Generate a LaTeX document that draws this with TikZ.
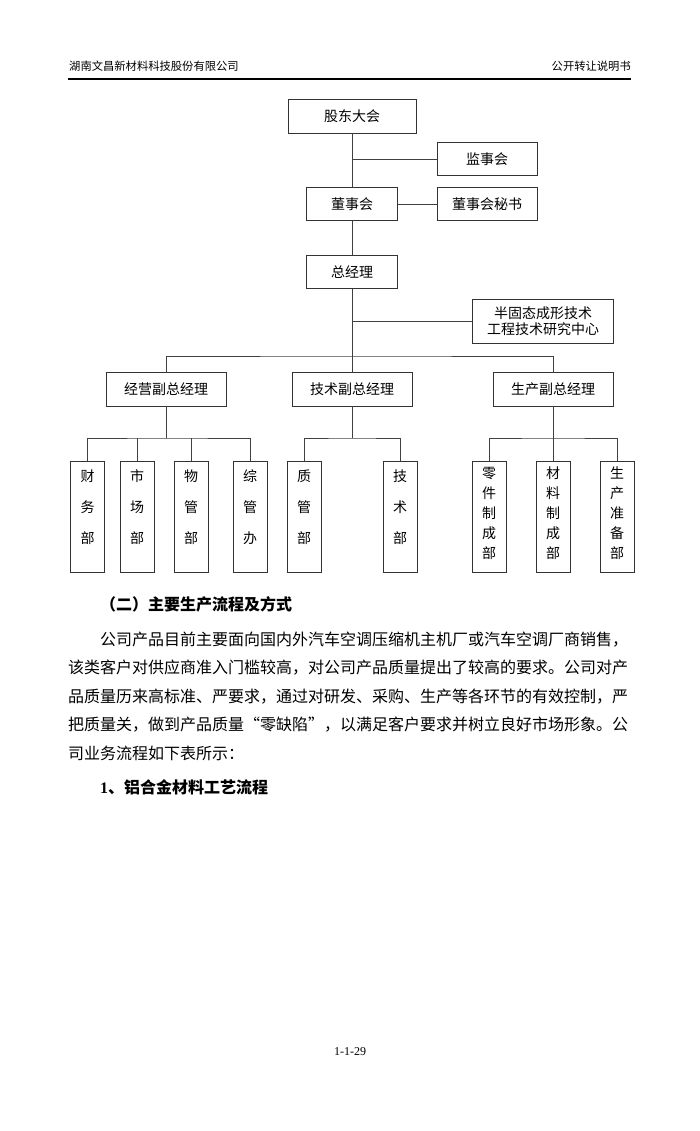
\documentclass[tikz,border=0pt]{standalone}
\usepackage{fontspec}
\setmainfont{Noto Sans CJK SC}
\newfontfamily\tnr{Liberation Serif}
\begin{document}
\begin{tikzpicture}[x=1pt,y=-1pt,
  line/.style={draw=black!75,line width=0.9pt},
  bx/.style={draw=black!80,line width=0.9pt,fill=white,inner sep=0pt,font=\fontsize{14}{16}\selectfont,align=center},
  tall/.style={bx,minimum width=34pt,minimum height=111pt},
  lbl3/.style={inner sep=0pt,align=center,font=\fontsize{14}{31}\selectfont},
  lbl5/.style={inner sep=0pt,align=center,font=\fontsize{14}{20}\selectfont},
  body/.style={inner sep=0pt,anchor=west,font=\fontsize{16}{18}\selectfont},
  head/.style={inner sep=0pt,anchor=west,font=\fontsize{16}{18}\selectfont\bfseries}]
\useasboundingbox[fill=white] (0,0) rectangle (700,1131);
% header
\node[inner sep=0pt,anchor=west,font=\fontsize{11.3}{13}\selectfont] (hl) at (69,66) {湖南文昌新材料科技股份有限公司};
\node[inner sep=0pt,anchor=east,font=\fontsize{11.3}{13}\selectfont] (hr) at (631,66) {公开转让说明书};
\coordinate (hla) at (68,79);
\coordinate (hlb) at (631,79);
\draw[line width=1.6pt] (hla) -- (hlb);
% chart boxes
\node[bx,minimum width=128pt,minimum height=34pt] (gd) at (352,116) {股东大会};
\node[bx,minimum width=100pt,minimum height=33pt] (jsh) at (487,159) {监事会};
\node[bx,minimum width=91pt,minimum height=33pt] (dsh) at (352,204) {董事会};
\node[bx,minimum width=100pt,minimum height=33pt] (ms) at (487,204) {董事会秘书};
\node[bx,minimum width=91pt,minimum height=33pt] (zjl) at (352,272) {总经理};
\node[bx,minimum width=141pt,minimum height=44pt,font=\fontsize{14}{15.5}\selectfont] (bgt) at (543,321) {半固态成形技术\\工程技术研究中心};
\node[bx,minimum width=120pt,minimum height=34pt] (jy) at (166,389) {经营副总经理};
\node[bx,minimum width=120pt,minimum height=34pt] (jsf) at (352,389) {技术副总经理};
\node[bx,minimum width=120pt,minimum height=34pt] (scf) at (553,389) {生产副总经理};
% departments
\node[tall] (cw) at (87.5,516.5) {};
\node[tall] (scb) at (137,516.5) {};
\node[tall] (wg) at (191,516.5) {};
\node[tall] (zg) at (250,516.5) {};
\node[tall] (zl) at (304,516.5) {};
\node[tall] (jsb) at (400,516.5) {};
\node[tall] (lj) at (489,516.5) {};
\node[tall] (cl) at (553,516.5) {};
\node[tall] (zb) at (617,516.5) {};
\node[lbl3] (cwt) at (87.5,507) {财\\务\\部};
\node[lbl3] (scbt) at (137,507) {市\\场\\部};
\node[lbl3] (wgt) at (191,507) {物\\管\\部};
\node[lbl3] (zgt) at (250,507) {综\\管\\办};
\node[lbl3] (zlt) at (304,507) {质\\管\\部};
\node[lbl3] (jsbt) at (400,507) {技\\术\\部};
\node[lbl5] (ljt) at (489,513) {零\\件\\制\\成\\部};
\node[lbl5] (clt) at (553,513) {材\\料\\制\\成\\部};
\node[lbl5] (zbt) at (617,513) {生\\产\\准\\备\\部};
% connectors
\coordinate (b1) at (352,356);
\coordinate (l1) at (166,438);
\coordinate (l2) at (352,438);
\coordinate (l3) at (553,438);
\draw[line] (gd.south) -- (dsh.north);
\draw[line] (jsh.west) -- (jsh.west -| gd.south);
\draw[line] (dsh.east) -- (ms.west);
\draw[line] (dsh.south) -- (zjl.north);
\draw[line] (zjl.south) -- (jsf.north);
\draw[line] (bgt.west) -- (bgt.west -| zjl.south);
\draw[line] (jy.north) |- (b1) -| (scf.north);
\draw[line] (jy.south) -- (l1);
\draw[line] (cw.north) |- (l1) -| (zg.north);
\draw[line] (scb.north) -- (scb.north |- l1);
\draw[line] (wg.north) -- (wg.north |- l1);
\draw[line] (jsf.south) -- (l2);
\draw[line] (zl.north) |- (l2) -| (jsb.north);
\draw[line] (scf.south) -- (cl.north);
\draw[line] (lj.north) |- (l3) -| (zb.north);
% text
\node[head] (h2) at (100,604) {（二）主要生产流程及方式};
\node[body] (p1) at (100,640) {公司产品目前主要面向国内外汽车空调压缩机主机厂或汽车空调厂商销售，};
\node[body] (p2) at (68,668) {该类客户对供应商准入门槛较高，对公司产品质量提出了较高的要求。公司对产};
\node[body] (p3) at (68,697) {品质量历来高标准、严要求，通过对研发、采购、生产等各环节的有效控制，严};
\node[body] (p4) at (68,725) {把质量关，做到产品质量“零缺陷”，以满足客户要求并树立良好市场形象。公};
\node[body] (p5) at (68,753) {司业务流程如下表所示：};
\node[head] (h3) at (100,787) {{\tnr\bfseries 1}、铝合金材料工艺流程};
\node[inner sep=0pt,font=\tnr\fontsize{12}{14}\selectfont] (pg) at (350,1052) {1-1-29};
\end{tikzpicture}
\end{document}
